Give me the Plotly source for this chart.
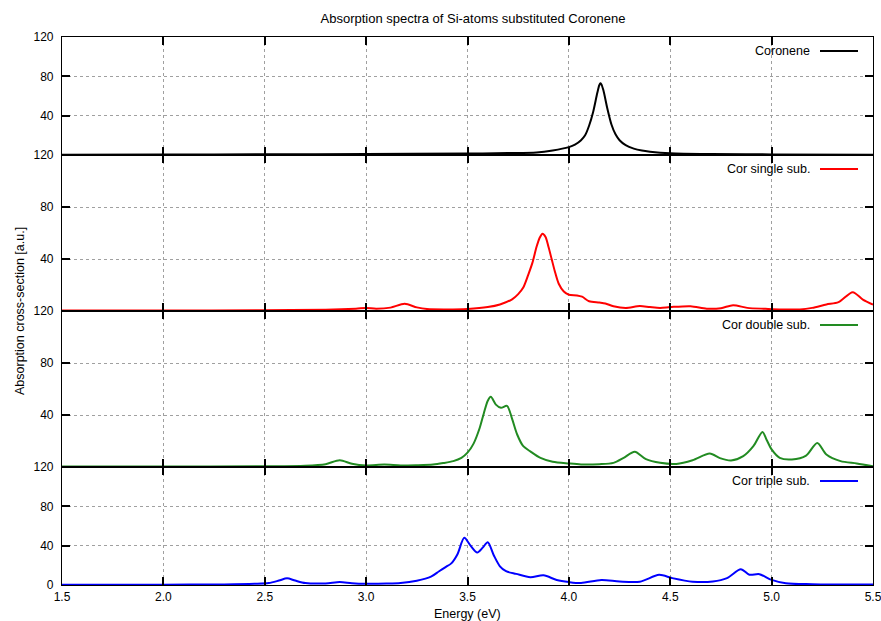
import plotly.graph_objects as go
from plotly.subplots import make_subplots

# ---------------- data ----------------
energy_cor = [1.5, 2.0, 2.5, 3.0, 3.5, 3.7, 3.84, 3.92, 4.0, 4.03, 4.06, 4.08, 4.10,
              4.12, 4.14, 4.15, 4.155, 4.16, 4.17, 4.19, 4.21, 4.23, 4.25, 4.28,
              4.32, 4.36, 4.40, 4.5, 4.7, 5.0, 5.5]
abs_cor = [0.3, 0.5, 0.7, 1.0, 1.5, 2.0, 2.6, 4.6, 8.0, 10.5, 15, 20, 30,
           44, 63, 71, 73, 72, 66, 47, 31, 21, 15, 10,
           6.5, 4.5, 3.4, 1.8, 1.0, 0.6, 0.3]

energy_single = [1.5, 2.0, 2.5, 2.8, 2.95, 3.0, 3.05, 3.12, 3.19, 3.25, 3.3, 3.4,
                 3.5, 3.6, 3.66, 3.72, 3.75, 3.775, 3.80, 3.82, 3.84, 3.855, 3.87,
                 3.885, 3.90, 3.915, 3.93, 3.95, 3.975, 4.0, 4.04, 4.065, 4.10,
                 4.15, 4.18, 4.22, 4.28, 4.35, 4.40, 4.45, 4.5, 4.6, 4.68, 4.75,
                 4.81, 4.88, 4.97, 5.05, 5.14, 5.2, 5.27, 5.33, 5.40, 5.45, 5.5]
abs_single = [0.3, 0.4, 0.6, 1.0, 1.8, 2.3, 1.8, 2.6, 5.5, 2.8, 1.5, 1.2,
              1.6, 3.0, 5.0, 9.0, 13, 18, 28, 37, 49, 56, 59.5,
              57, 49, 40, 31, 21, 15, 12.5, 12, 11, 7.5,
              6.5, 5.8, 3.7, 2.4, 3.8, 3.0, 2.4, 3.0, 3.7, 1.8, 2.2,
              4.5, 2.4, 1.7, 1.2, 1.2, 2.4, 5.0, 6.8, 14.5, 8.8, 5.0]

energy_double = [1.5, 2.0, 2.5, 2.7, 2.8, 2.87, 2.93, 3.0, 3.09, 3.17, 3.25, 3.33,
                 3.38, 3.43, 3.47, 3.50, 3.53, 3.56, 3.58, 3.60, 3.615, 3.64,
                 3.665, 3.695, 3.72, 3.745, 3.775, 3.81, 3.86, 3.92, 4.0, 4.06,
                 4.15, 4.22, 4.27, 4.325, 4.38, 4.45, 4.53, 4.61, 4.695, 4.745,
                 4.80, 4.86, 4.91, 4.955, 4.975, 5.0, 5.04, 5.10, 5.17, 5.225,
                 5.27, 5.34, 5.42, 5.5]
abs_double = [0.3, 0.4, 0.6, 1.0, 2.2, 5.2, 2.5, 1.2, 1.9, 1.2, 1.4, 1.9,
              3.0, 4.5, 7.0, 11, 18, 30, 41, 51, 54, 48,
              45.5, 47, 37, 25, 16, 12, 7, 4, 2.7, 2.0,
              2.2, 3.2, 7, 11.7, 6, 3.2, 2.4, 5.2, 10.4, 6.8,
              5.0, 8.3, 16, 27, 21, 13.5, 7, 5.8, 8.8, 18.5,
              9.6, 4.5, 2.7, 0.6]

energy_triple = [1.5, 2.0, 2.3, 2.45, 2.52, 2.57, 2.61, 2.65, 2.70, 2.80, 2.87,
                 2.93, 3.0, 3.1, 3.17, 3.25, 3.32, 3.36, 3.39, 3.42, 3.45, 3.484,
                 3.515, 3.548, 3.575, 3.60, 3.63, 3.66, 3.69, 3.74, 3.81, 3.875,
                 3.94, 4.0, 4.06, 4.16, 4.25, 4.35, 4.445, 4.51, 4.61, 4.71, 4.78,
                 4.848, 4.89, 4.94, 5.0, 5.07, 5.2, 5.5]
abs_triple = [0.2, 0.3, 0.6, 1.2, 2.0, 4.5, 6.8, 4.5, 2.0, 1.6, 3.0,
              1.8, 1.2, 1.4, 2.0, 4.4, 8.5, 14, 18, 22, 31, 48,
              40, 33, 38, 43.5, 30, 19, 14, 11.3, 7.9, 9.8,
              5.1, 3.0, 2.0, 5.1, 3.6, 3.4, 10.3, 7.0, 3.4, 3.6, 7.0,
              16, 10.5, 11, 5.2, 1.8, 0.8, 0.4]

series_names = ["Coronene", "Cor single sub.", "Cor double sub.", "Cor triple sub."]
series_colors = ["#000000", "#ff0000", "#228b22", "#0000ff"]
energies = [energy_cor, energy_single, energy_double, energy_triple]
values = [abs_cor, abs_single, abs_double, abs_triple]

x_ticks = [1.5, 2.0, 2.5, 3.0, 3.5, 4.0, 4.5, 5.0, 5.5]
y_ticks_upper = [40, 80, 120]
y_ticks_bottom = [0, 40, 80, 120]

# ---------------- layout geometry ----------------
W, H = 881, 621
ML, MR, MT, MB = 62, 8, 37, 36
PW, PH = W - ML - MR, H - MT - MB
panel_px = [118, 156, 156, 118]
FONT = "Liberation Sans, Arial, Helvetica, sans-serif"

fig = make_subplots(rows=4, cols=1, shared_xaxes=True, vertical_spacing=0,
                    row_heights=panel_px)

for i in range(4):
    fig.add_trace(go.Scatter(x=energies[i], y=values[i], mode="lines",
                             line=dict(color=series_colors[i], width=2,
                                       shape="spline", smoothing=0.8),
                             name=series_names[i], showlegend=False),
                  row=i + 1, col=1)

axis_common = dict(ticks="inside", ticklen=8, tickwidth=1.5, tickcolor="black",
                   showline=True, linecolor="black", linewidth=1.2, mirror="ticks",
                   showgrid=True, gridcolor="#a0a0a0", griddash="dot", gridwidth=1,
                   zeroline=False, automargin=False,
                   tickfont=dict(family=FONT, size=12, color="black"))

fig.update_xaxes(range=[1.5, 5.5], tickvals=x_ticks, tickformat=".1f",
                 ticklabeloverflow="allow", **axis_common)
for i in range(4):
    fig.update_yaxes(range=[0, 120],
                     tickvals=y_ticks_bottom if i == 3 else y_ticks_upper,
                     ticklabelstandoff=5, row=i + 1, col=1, **axis_common)

# legend keys (gnuplot style: text then line sample), per panel
top = 0
for i in range(4):
    py = MT + top + 14
    yp = 1 - (py - MT) / PH
    fig.add_annotation(x=(812 - ML) / PW, y=yp, xref="paper", yref="paper",
                       text=series_names[i], showarrow=False, xanchor="right",
                       yanchor="middle", font=dict(family=FONT, size=12.5, color="black"))
    fig.add_shape(type="line", xref="paper", yref="paper",
                  x0=(820 - ML) / PW, x1=(858 - ML) / PW, y0=yp, y1=yp,
                  line=dict(color=series_colors[i], width=2))
    top += panel_px[i]

# axis titles
fig.add_annotation(x=0, y=0.5, xref="paper", yref="paper", xshift=-42,
                   xanchor="center", yanchor="middle",
                   text="Absorption cross-section [a.u.]", textangle=-90,
                   showarrow=False, font=dict(family=FONT, size=12.5, color="black"))
fig.add_annotation(x=0.5, y=0, xref="paper", yref="paper", yshift=-29,
                   text="Energy (eV)", showarrow=False, xanchor="center", yanchor="middle",
                   font=dict(family=FONT, size=12.5, color="black"))

fig.update_layout(
    width=W, height=H,
    margin=dict(l=ML, r=MR, t=MT, b=MB, autoexpand=False),
    paper_bgcolor="white", plot_bgcolor="white",
    title=dict(text="Absorption spectra of Si-atoms substituted Coronene",
               x=(473 - ML) / PW, xref="paper", xanchor="center",
               y=1 - 18 / H, yanchor="middle",
               font=dict(family=FONT, size=13, color="black")),
    showlegend=False,
)

fig.write_html("out.html")
